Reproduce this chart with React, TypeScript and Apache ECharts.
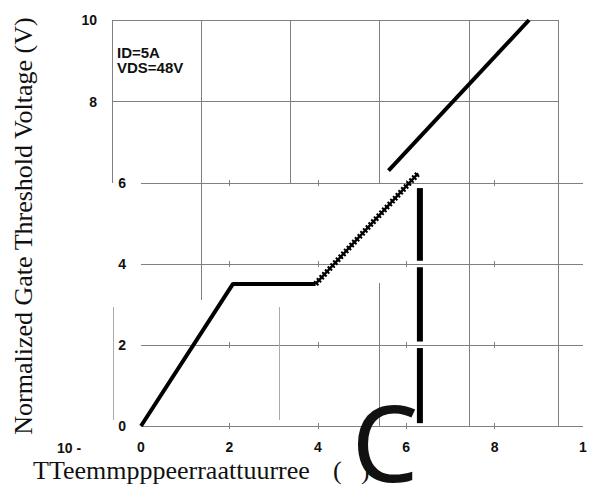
import React, { useEffect, useRef } from "react";
import * as echarts from "echarts";

// ---- data ----
const xTickLabels = ["0", "2", "4", "6", "8", "1"];
const riseAndPlateau = [[0, 0], [2.08, 3.5], [3.95, 3.5]];
const hatchedRise = [[3.95, 3.5], [6.27, 6.22]];
const upperRise = [[5.6, 6.29], [8.78, 10]];
const barX = 6.31;
const barSegments = [[0.07, 1.92], [2.08, 3.91], [4.07, 5.86]];
const annotations = ["ID=5A", "VDS=48V"];
const yTitle = "Normalized Gate Threshold Voltage (V)";
const xTitle = "TTeemmpppeerraattuurree";
const strayLabel = "10 -";
const unitGlyph = "C";

const GRAY = "#808080";
const T = "rgba(0,0,0,0)";
const LABEL_FONT = { fontFamily: "Liberation Sans", fontWeight: "bold" as const, fontSize: 14, color: "#111" };

export default function App() {
  const ref = useRef<HTMLDivElement>(null);
  useEffect(() => {
    document.body.style.margin = "0";
    const chart = echarts.init(ref.current!, null, { renderer: "svg" });

    const lowerTop = 183;
    const lowerH = 243;
    const tickGrids = [0, 1, 2, 3].map((i) => ({
      left: 141, width: 442, top: lowerTop + (i * lowerH) / 3 - 3, height: 6,
    }));

    const grids = [
      { left: 141, top: 20, width: 442, height: 406 }, // 0 data
      { left: 112, top: 20, width: 446, height: 163 }, // 1 upper frame
      { left: 141, top: lowerTop, width: 442, height: lowerH }, // 2 lower frame
      { left: 112, top: lowerTop, width: 446, height: lowerH }, // 3 full verticals
      { left: 112, top: lowerTop, width: 446, height: 117 }, // 4 upper part of a vertical
      { left: 112, top: 283, width: 446, height: 143 }, // 5 lower part of a vertical
      { left: 113, top: 307, width: 166, height: 113 }, // 6 stubs
      ...tickGrids, // 7-10
    ];

    const vSplit = (colors: string[], min: number, max: number, interval: number) => ({
      type: "value", min, max, interval,
      axisLine: { show: false }, axisTick: { show: false }, axisLabel: { show: false },
      splitLine: { show: true, lineStyle: { color: colors, width: 1 } },
    });

    const xAxes: any[] = [
      { gridIndex: 0, type: "value", min: 0, max: 10, show: false },
      { gridIndex: 1, ...vSplit([GRAY], 0, 5, 1) },
      {
        gridIndex: 2, type: "value", min: 0, max: 10, interval: 2,
        axisLine: { show: false }, axisTick: { show: false },
        axisLabel: { ...LABEL_FONT, margin: 14, formatter: (v: number) => xTickLabels[Math.round(v / 2)] ?? "" },
        splitLine: { show: false },
      },
      { gridIndex: 3, ...vSplit([T, T, T, T, GRAY, GRAY], 0, 5, 1) },
      { gridIndex: 4, ...vSplit([T, GRAY, T, T, T, T], 0, 5, 1) },
      { gridIndex: 5, ...vSplit([T, T, T, GRAY, T, T], 0, 5, 1) },
      { gridIndex: 6, ...vSplit(["#aaa", "#aaa"], 0, 1, 1) },
      ...tickGrids.map((_, i) => ({ gridIndex: 7 + i, ...vSplit([T, GRAY, GRAY, GRAY, GRAY, T], 0, 10, 2) })),
    ];

    const yAxes: any[] = [
      { gridIndex: 0, type: "value", min: 0, max: 10, show: false },
      {
        gridIndex: 1, type: "value", min: 6, max: 10, interval: 2,
        axisLine: { show: false }, axisTick: { show: false },
        axisLabel: { ...LABEL_FONT, margin: 15, formatter: (v: number) => (v === 6 ? "" : String(v)) },
        splitLine: { show: true, lineStyle: { color: [T, GRAY, GRAY], width: 1 } },
      },
      {
        gridIndex: 2, type: "value", min: 0, max: 6, interval: 2,
        axisLine: { show: false }, axisTick: { show: false },
        axisLabel: { ...LABEL_FONT, margin: 15 },
        splitLine: { show: true, lineStyle: { color: GRAY, width: 1 } },
      },
      ...[3, 4, 5, 6, 7, 8, 9, 10].map((g) => ({ gridIndex: g, type: "value", min: 0, max: 1, show: false })),
    ];

    const lineSeries = (data: number[][], width: number, type: any = "solid") => ({
      type: "line", xAxisIndex: 0, yAxisIndex: 0, data, symbol: "none", z: 5,
      lineStyle: { color: "#000", width, type, cap: "butt" },
      silent: true,
    });

    chart.setOption({
      animation: false,
      grid: grids,
      xAxis: xAxes,
      yAxis: yAxes,
      series: [
        lineSeries(riseAndPlateau, 4),
        lineSeries(hatchedRise, 6, [2, 2]),
        lineSeries(hatchedRise, 2.5),
        lineSeries(upperRise, 4),
        ...barSegments.map(([a, b]) => lineSeries([[barX, a], [barX, b]], 6)),
      ],
      graphic: [
        {
          type: "text", x: 23, y: 226, rotation: Math.PI / 2,
          style: { text: yTitle, fontFamily: "Liberation Serif", fontSize: 26, fill: "#111", align: "center", verticalAlign: "middle" },
        },
        {
          type: "text", x: 33, y: 470,
          style: { text: xTitle, fontFamily: "Liberation Serif", fontSize: 26, fill: "#111", align: "left", verticalAlign: "middle" },
        },
        {
          type: "text", x: 333, y: 470,
          style: { text: "(", fontFamily: "Liberation Serif", fontSize: 26, fill: "#111", align: "left", verticalAlign: "middle" },
        },
        {
          type: "text", x: 361, y: 470,
          style: { text: ")", fontFamily: "Liberation Serif", fontSize: 26, fill: "#111", align: "left", verticalAlign: "middle" },
        },
        {
          type: "text", x: 57, y: 448,
          style: { text: strayLabel, fontFamily: "Liberation Sans", fontWeight: "bold", fontSize: 14, fill: "#111", align: "left", verticalAlign: "middle" },
        },
        ...annotations.map((t, i) => ({
          type: "text", x: 117, y: 52.5 + i * 15,
          style: { text: t, fontFamily: "Liberation Sans", fontWeight: "bold", fontSize: 15, fill: "#111", align: "left", verticalAlign: "middle" },
        })),
        {
          type: "text", x: 385, y: 441, z: 100,
          style: { text: unitGlyph, fontFamily: "Noto Sans", fontSize: 106, fill: "#111", align: "center", verticalAlign: "middle" },
        },
      ],
    });
    return () => chart.dispose();
  }, []);
  return <div ref={ref} style={{ width: 595, height: 490 }} />;
}
